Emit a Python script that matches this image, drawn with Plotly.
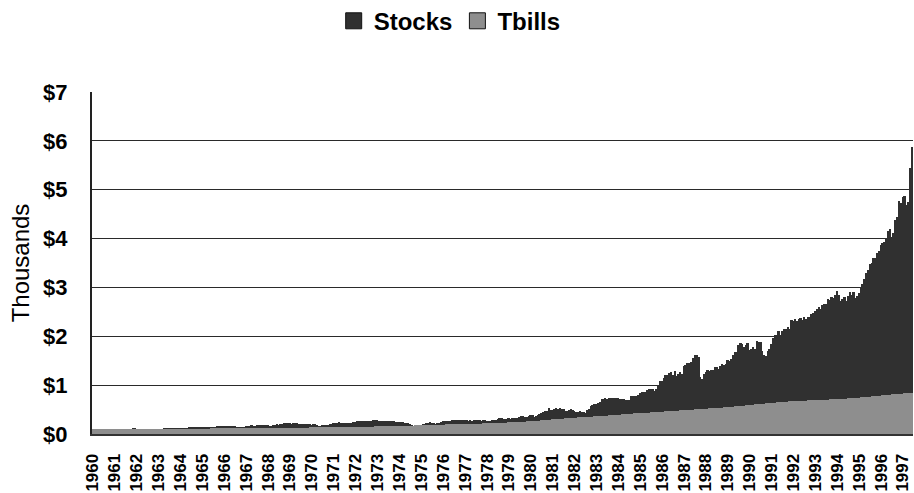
import plotly.graph_objects as go

# Growth of a $100 investment, monthly, Jan 1960 - Jun 1997 (values in $ thousands)
years = list(range(1960, 1998))
month_names = ["Jan", "Feb", "Mar", "Apr", "May", "Jun",
               "Jul", "Aug", "Sep", "Oct", "Nov", "Dec"]

stocks = [
    0.093, 0.094, 0.093, 0.092, 0.095, 0.097, 0.095, 0.097, 0.092, 0.092, 0.096, 0.100,  # 1960
    0.106, 0.108, 0.110, 0.110, 0.111, 0.107, 0.110, 0.112, 0.109, 0.111, 0.114, 0.114,  # 1961
    0.109, 0.111, 0.110, 0.104, 0.096, 0.089, 0.095, 0.097, 0.092, 0.092, 0.101, 0.103,  # 1962
    0.108, 0.105, 0.109, 0.114, 0.116, 0.114, 0.114, 0.119, 0.118, 0.122, 0.121, 0.124,  # 1963
    0.127, 0.129, 0.131, 0.131, 0.132, 0.134, 0.136, 0.134, 0.138, 0.139, 0.139, 0.140,  # 1964
    0.146, 0.147, 0.145, 0.150, 0.149, 0.142, 0.146, 0.150, 0.156, 0.161, 0.160, 0.163,  # 1965
    0.170, 0.168, 0.165, 0.167, 0.160, 0.158, 0.156, 0.145, 0.144, 0.149, 0.151, 0.151,  # 1966
    0.163, 0.165, 0.172, 0.179, 0.171, 0.174, 0.182, 0.180, 0.186, 0.180, 0.181, 0.186,  # 1967
    0.178, 0.172, 0.174, 0.190, 0.194, 0.196, 0.193, 0.196, 0.205, 0.220, 0.233, 0.224,  # 1968
    0.222, 0.212, 0.220, 0.225, 0.226, 0.212, 0.198, 0.207, 0.202, 0.212, 0.201, 0.204,  # 1969
    0.190, 0.199, 0.200, 0.183, 0.172, 0.164, 0.176, 0.184, 0.190, 0.188, 0.198, 0.209,  # 1970
    0.220, 0.223, 0.232, 0.242, 0.234, 0.235, 0.226, 0.235, 0.234, 0.226, 0.226, 0.246,  # 1971
    0.250, 0.257, 0.260, 0.262, 0.266, 0.260, 0.261, 0.271, 0.271, 0.273, 0.286, 0.290,  # 1972
    0.285, 0.275, 0.275, 0.264, 0.259, 0.257, 0.266, 0.257, 0.269, 0.269, 0.240, 0.243,  # 1973
    0.243, 0.242, 0.236, 0.227, 0.220, 0.218, 0.200, 0.184, 0.163, 0.190, 0.180, 0.178,  # 1974
    0.191, 0.202, 0.207, 0.217, 0.228, 0.239, 0.223, 0.220, 0.213, 0.227, 0.234, 0.244,  # 1975
    0.268, 0.265, 0.274, 0.272, 0.269, 0.281, 0.279, 0.280, 0.287, 0.281, 0.280, 0.294,  # 1976
    0.284, 0.279, 0.276, 0.277, 0.273, 0.286, 0.281, 0.277, 0.277, 0.270, 0.280, 0.281,  # 1977
    0.264, 0.258, 0.265, 0.290, 0.294, 0.290, 0.308, 0.335, 0.333, 0.300, 0.306, 0.310,  # 1978
    0.323, 0.311, 0.330, 0.331, 0.323, 0.336, 0.340, 0.360, 0.361, 0.340, 0.357, 0.367,  # 1979
    0.389, 0.392, 0.352, 0.369, 0.388, 0.410, 0.440, 0.452, 0.466, 0.478, 0.540, 0.500,  # 1980
    0.495, 0.505, 0.540, 0.520, 0.525, 0.515, 0.512, 0.475, 0.465, 0.490, 0.505, 0.495,  # 1981
    0.480, 0.455, 0.455, 0.470, 0.455, 0.445, 0.440, 0.500, 0.515, 0.570, 0.595, 0.605,  # 1982
    0.620, 0.640, 0.665, 0.715, 0.715, 0.740, 0.718, 0.730, 0.740, 0.730, 0.745, 0.740,  # 1983
    0.736, 0.708, 0.718, 0.722, 0.690, 0.700, 0.695, 0.770, 0.772, 0.776, 0.775, 0.790,  # 1984
    0.840, 0.850, 0.855, 0.855, 0.905, 0.920, 0.918, 0.912, 0.885, 0.925, 1.005, 1.080,  # 1985
    1.090, 1.150, 1.210, 1.200, 1.250, 1.270, 1.200, 1.280, 1.180, 1.230, 1.260, 1.230,  # 1986
    1.400, 1.420, 1.460, 1.450, 1.470, 1.560, 1.610, 1.620, 1.570, 1.160, 1.120, 1.220,  # 1987
    1.260, 1.310, 1.280, 1.300, 1.310, 1.370, 1.370, 1.330, 1.390, 1.430, 1.410, 1.430,  # 1988
    1.520, 1.500, 1.540, 1.620, 1.680, 1.670, 1.820, 1.860, 1.840, 1.790, 1.820, 1.860,  # 1989
    1.720, 1.750, 1.790, 1.750, 1.900, 1.890, 1.880, 1.700, 1.620, 1.600, 1.700, 1.750,  # 1990
    1.840, 1.970, 2.020, 2.030, 2.100, 2.020, 2.100, 2.140, 2.150, 2.180, 2.150, 2.340,  # 1991
    2.320, 2.350, 2.310, 2.360, 2.370, 2.340, 2.400, 2.360, 2.390, 2.400, 2.450, 2.470,  # 1992
    2.520, 2.560, 2.600, 2.550, 2.640, 2.660, 2.660, 2.760, 2.740, 2.800, 2.780, 2.840,  # 1993
    2.930, 2.840, 2.720, 2.760, 2.800, 2.730, 2.820, 2.900, 2.840, 2.900, 2.790, 2.820,  # 1994
    2.880, 3.000, 3.080, 3.180, 3.300, 3.360, 3.480, 3.500, 3.600, 3.600, 3.700, 3.750,  # 1995
    3.860, 3.900, 3.940, 4.020, 4.150, 4.200, 4.030, 4.120, 4.380, 4.450, 4.760, 4.720,  # 1996
    4.860, 4.880, 4.680, 4.740, 5.450, 5.880,                                            # 1997
]

tbills = [
    0.100, 0.100, 0.100, 0.101, 0.101, 0.101, 0.101, 0.101, 0.102, 0.102, 0.102, 0.102,  # 1960
    0.102, 0.102, 0.103, 0.103, 0.103, 0.103, 0.103, 0.103, 0.104, 0.104, 0.104, 0.104,  # 1961
    0.104, 0.104, 0.105, 0.105, 0.105, 0.105, 0.105, 0.105, 0.106, 0.106, 0.106, 0.106,  # 1962
    0.106, 0.106, 0.106, 0.107, 0.107, 0.107, 0.107, 0.107, 0.108, 0.108, 0.108, 0.108,  # 1963
    0.108, 0.109, 0.109, 0.109, 0.109, 0.110, 0.110, 0.110, 0.110, 0.111, 0.111, 0.111,  # 1964
    0.111, 0.112, 0.112, 0.112, 0.112, 0.113, 0.113, 0.113, 0.113, 0.114, 0.114, 0.114,  # 1965
    0.115, 0.115, 0.115, 0.116, 0.116, 0.116, 0.117, 0.117, 0.117, 0.118, 0.118, 0.118,  # 1966
    0.119, 0.119, 0.119, 0.120, 0.120, 0.120, 0.120, 0.121, 0.121, 0.121, 0.122, 0.122,  # 1967
    0.122, 0.123, 0.123, 0.123, 0.124, 0.124, 0.125, 0.125, 0.126, 0.126, 0.126, 0.127,  # 1968
    0.127, 0.128, 0.128, 0.129, 0.129, 0.130, 0.130, 0.131, 0.132, 0.132, 0.133, 0.134,  # 1969
    0.134, 0.135, 0.136, 0.136, 0.137, 0.138, 0.138, 0.139, 0.140, 0.140, 0.141, 0.142,  # 1970
    0.142, 0.143, 0.143, 0.144, 0.144, 0.145, 0.145, 0.146, 0.146, 0.147, 0.147, 0.148,  # 1971
    0.148, 0.149, 0.149, 0.150, 0.150, 0.151, 0.151, 0.152, 0.152, 0.153, 0.153, 0.154,  # 1972
    0.155, 0.155, 0.156, 0.157, 0.158, 0.159, 0.160, 0.161, 0.162, 0.163, 0.164, 0.165,  # 1973
    0.166, 0.167, 0.168, 0.169, 0.170, 0.171, 0.172, 0.173, 0.174, 0.176, 0.177, 0.178,  # 1974
    0.179, 0.180, 0.181, 0.182, 0.183, 0.184, 0.185, 0.186, 0.188, 0.189, 0.190, 0.192,  # 1975
    0.193, 0.194, 0.195, 0.196, 0.197, 0.198, 0.199, 0.200, 0.201, 0.202, 0.203, 0.205,  # 1976
    0.206, 0.207, 0.208, 0.209, 0.210, 0.211, 0.212, 0.213, 0.214, 0.215, 0.217, 0.218,  # 1977
    0.219, 0.220, 0.221, 0.222, 0.223, 0.225, 0.226, 0.227, 0.229, 0.231, 0.233, 0.235,  # 1978
    0.237, 0.239, 0.241, 0.243, 0.245, 0.247, 0.249, 0.251, 0.253, 0.255, 0.257, 0.260,  # 1979
    0.263, 0.266, 0.269, 0.272, 0.274, 0.276, 0.278, 0.280, 0.283, 0.286, 0.290, 0.295,  # 1980
    0.298, 0.301, 0.304, 0.307, 0.310, 0.313, 0.316, 0.319, 0.322, 0.325, 0.328, 0.330,  # 1981
    0.333, 0.335, 0.338, 0.340, 0.343, 0.345, 0.348, 0.350, 0.352, 0.355, 0.357, 0.360,  # 1982
    0.362, 0.365, 0.367, 0.370, 0.372, 0.375, 0.378, 0.380, 0.383, 0.386, 0.389, 0.392,  # 1983
    0.394, 0.397, 0.400, 0.403, 0.405, 0.408, 0.411, 0.414, 0.417, 0.420, 0.422, 0.425,  # 1984
    0.428, 0.430, 0.433, 0.435, 0.438, 0.440, 0.443, 0.445, 0.448, 0.450, 0.453, 0.455,  # 1985
    0.458, 0.460, 0.463, 0.465, 0.468, 0.470, 0.473, 0.475, 0.478, 0.480, 0.483, 0.485,  # 1986
    0.488, 0.490, 0.493, 0.495, 0.498, 0.500, 0.503, 0.505, 0.508, 0.510, 0.513, 0.515,  # 1987
    0.518, 0.520, 0.523, 0.526, 0.529, 0.532, 0.534, 0.537, 0.540, 0.542, 0.545, 0.548,  # 1988
    0.551, 0.555, 0.558, 0.562, 0.565, 0.569, 0.572, 0.576, 0.579, 0.583, 0.586, 0.590,  # 1989
    0.594, 0.597, 0.601, 0.605, 0.609, 0.612, 0.616, 0.620, 0.624, 0.627, 0.631, 0.635,  # 1990
    0.638, 0.641, 0.644, 0.647, 0.650, 0.653, 0.656, 0.659, 0.662, 0.665, 0.668, 0.670,  # 1991
    0.672, 0.674, 0.676, 0.678, 0.680, 0.682, 0.684, 0.685, 0.687, 0.689, 0.690, 0.692,  # 1992
    0.694, 0.695, 0.697, 0.699, 0.700, 0.702, 0.704, 0.705, 0.707, 0.709, 0.710, 0.712,  # 1993
    0.714, 0.716, 0.718, 0.720, 0.722, 0.725, 0.727, 0.729, 0.731, 0.734, 0.737, 0.740,  # 1994
    0.744, 0.748, 0.752, 0.755, 0.759, 0.763, 0.767, 0.770, 0.774, 0.777, 0.781, 0.785,  # 1995
    0.788, 0.792, 0.795, 0.799, 0.802, 0.806, 0.809, 0.812, 0.815, 0.818, 0.822, 0.825,  # 1996
    0.828, 0.831, 0.834, 0.836, 0.839, 0.842,                                            # 1997
]

# Month categories, one per bar
months = [f"{m} {y}" for y in years for m in month_names][:len(stocks)]
year_ticks = [f"Jan {y}" for y in years]
year_labels = [str(y) for y in years]

STOCK_COLOR = "#303030"
TBILL_COLOR = "#8e8e8e"
FONT = "Liberation Sans, Arial, Helvetica, sans-serif"

fig = go.Figure()
fig.add_trace(go.Bar(x=months, y=stocks, name="Stocks", marker=dict(color=STOCK_COLOR, line=dict(width=0)),
                     showlegend=False))
fig.add_trace(go.Bar(x=months, y=tbills, name="Tbills", marker=dict(color=TBILL_COLOR, line=dict(width=0)),
                     showlegend=False))
# Legend swatches
for name, color in (("Stocks", STOCK_COLOR), ("Tbills", TBILL_COLOR)):
    fig.add_trace(go.Scatter(x=[None], y=[None], mode="markers", name=name,
                             marker=dict(symbol="square", size=16, color=color,
                                         line=dict(color="#111111", width=1))))

fig.update_layout(
    width=914, height=493,
    margin=dict(l=92, r=1, t=92, b=55),
    paper_bgcolor="white", plot_bgcolor="white",
    barmode="overlay", bargap=0,
    font=dict(family=FONT, color="#000000"),
    legend=dict(orientation="h", xref="container", yref="container",
                x=0.492, xanchor="center", y=0.957, yanchor="middle",
                font=dict(size=24, weight="bold"), itemclick=False),
)
fig.update_xaxes(
    type="category", categoryorder="array", categoryarray=months,
    tickmode="array", tickvals=year_ticks, ticktext=year_labels,
    tickangle=-90, tickfont=dict(size=17, weight="bold"),
    ticks="", ticklabelstandoff=11,
    showgrid=False, showline=True, linecolor="#333333", linewidth=2,
    range=[-0.5, len(months) - 0.5], fixedrange=True,
)
fig.update_yaxes(
    range=[0, 7], dtick=1, tickprefix="$", tickformat="d",
    tickfont=dict(size=22, weight="bold"), ticks="", ticklabelstandoff=18,
    showgrid=True, gridcolor="#2a2a2a", gridwidth=1, zeroline=False,
    showline=True, linecolor="#222222", linewidth=2, mirror=False,
    title=dict(text="Thousands", font=dict(size=24), standoff=7),
    fixedrange=True,
)

fig.write_html("out.html")
